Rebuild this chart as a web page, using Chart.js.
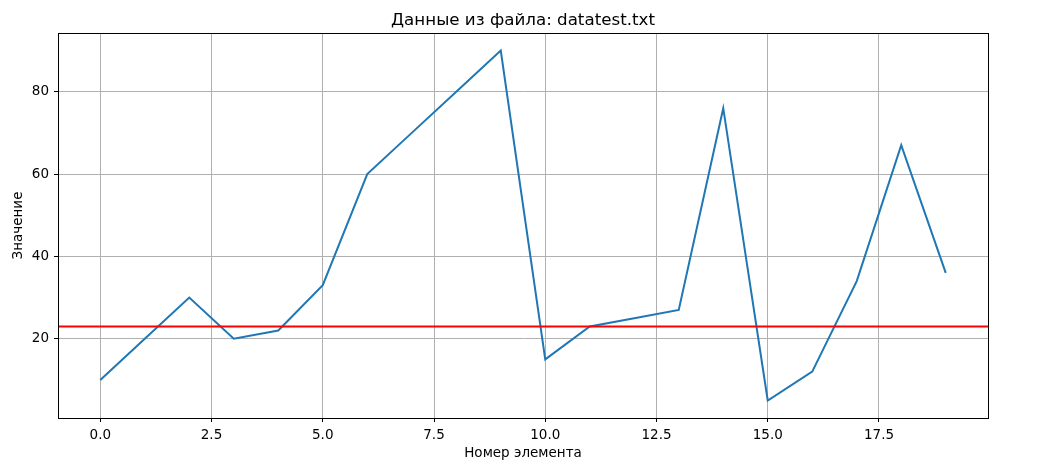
<!DOCTYPE html>
<html>
<head>
<meta charset="utf-8">
<script src="https://cdn.jsdelivr.net/npm/chart.js@4/dist/chart.umd.min.js"></script>
<style>
  html, body { margin: 0; padding: 0; background: #fff; }
  canvas { display: block; }
</style>
</head>
<body>
<canvas id="myChart" width="1039" height="467"></canvas>
<script>
// data
const indices = [0, 1, 2, 3, 4, 5, 6, 7, 8, 9, 10, 11, 12, 13, 14, 15, 16, 17, 18, 19];
const values = [10, 20, 30, 20, 22, 33, 60, 70, 80, 90, 15, 23, 25, 27, 76, 5, 12, 34, 67, 36];
const threshold = 23;
const xTicks = [0, 2.5, 5, 7.5, 10, 12.5, 15, 17.5];
const yTicks = [20, 40, 60, 80];

const xMin = -0.95, xMax = 19.95;
const yMin = 0.75, yMax = 94.25;

const font = 'DejaVu Sans';

// top and right spines, title centred over the axes
const frame = {
    id: 'frame',
    afterLayout(chart) {
        const t = chart.titleBlock;
        if (t) {
            t.left = chart.chartArea.left;
            t.right = chart.chartArea.right;
        }
    },
    afterDatasetsDraw(chart) {
        const { ctx, chartArea: a } = chart;
        ctx.save();
        ctx.strokeStyle = '#000';
        ctx.lineWidth = 1;
        ctx.strokeRect(Math.round(a.left) + 0.5, Math.round(a.top) + 0.5,
            Math.round(a.right - a.left), Math.round(a.bottom - a.top));
        ctx.restore();
    }
};

const data = {
    datasets: [
        {
            label: 'threshold',
            data: [{ x: xMin, y: threshold }, { x: xMax, y: threshold }],
            borderColor: '#ff0000',
            borderWidth: 2,
            pointRadius: 0,
            order: 0,
        },
        {
            label: 'values',
            data: indices.map((x, i) => ({ x: x, y: values[i] })),
            borderColor: '#1f77b4',
            borderWidth: 2,
            pointRadius: 0,
            order: 1,
        }
    ]
};

const config = {
    type: 'line',
    data: data,
    options: {
        responsive: false,
        animation: false,
        layout: { padding: { left: 0, right: 51, top: 0, bottom: 0 } },
        plugins: {
            legend: { display: false },
            tooltip: { enabled: false },
            title: {
                display: true,
                text: 'Данные из файла: datatest.txt',
                color: '#000',
                font: { family: font, size: 16.7, weight: 'normal', lineHeight: 1.2 },
                padding: { top: 11, bottom: 2 }
            }
        },
        scales: {
            x: {
                type: 'linear',
                min: xMin,
                max: xMax,
                afterBuildTicks: s => { s.ticks = xTicks.map(v => ({ value: v })); },
                afterFit: s => { s.height = 49; },
                ticks: {
                    color: '#000',
                    font: { family: font, size: 13.5 },
                    padding: 5,
                    maxRotation: 0,
                    callback: v => v.toFixed(1)
                },
                grid: { color: '#b0b0b0', lineWidth: 1, tickColor: '#000', tickLength: 4 },
                border: { color: '#000', width: 1 },
                title: {
                    display: true,
                    text: 'Номер элемента',
                    color: '#000',
                    font: { family: font, size: 13.5 },
                    padding: { top: 0, bottom: 5 }
                }
            },
            y: {
                type: 'linear',
                min: yMin,
                max: yMax,
                afterBuildTicks: s => { s.ticks = yTicks.map(v => ({ value: v })); },
                afterFit: s => { s.width = 58; },
                ticks: {
                    color: '#000',
                    font: { family: font, size: 13.5 },
                    padding: 5,
                    callback: v => String(v)
                },
                grid: { color: '#b0b0b0', lineWidth: 1, tickColor: '#000', tickLength: 4 },
                border: { color: '#000', width: 1 },
                title: {
                    display: true,
                    text: 'Значение',
                    color: '#000',
                    font: { family: font, size: 13.5 },
                    padding: { top: 10, bottom: 0 }
                }
            }
        }
    },
    plugins: [frame]
};

const myChart = new Chart(document.getElementById('myChart'), config);
</script>
</body>
</html>
